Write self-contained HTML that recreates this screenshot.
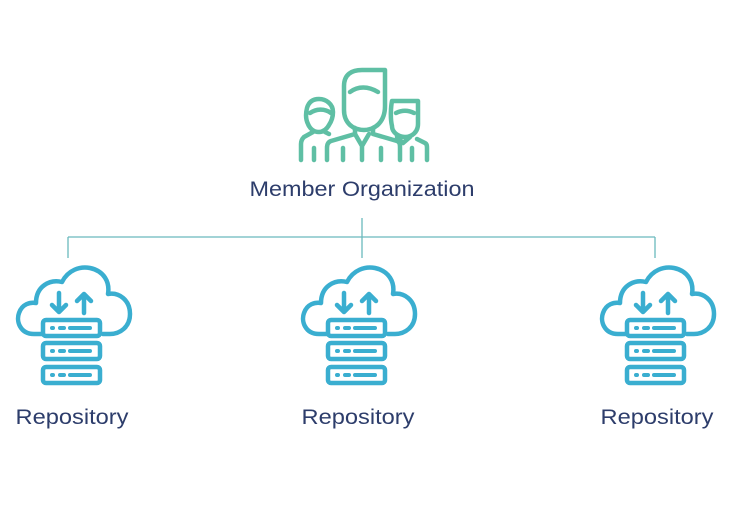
<!DOCTYPE html>
<html><head><meta charset="utf-8"><style>
html,body{margin:0;padding:0;background:#fff;}
svg{display:block;}
</style></head><body>
<svg width="738" height="516" viewBox="0 0 738 516" xmlns="http://www.w3.org/2000/svg">
<defs>
<g id="repo" fill="none" stroke="#3aaed0" stroke-width="4.5" stroke-linecap="round" stroke-linejoin="round">
  <path d="M-29 62 H-38 C-52 62 -56 49 -53 41 C-50 32 -42 30 -36 31 C-36 14 -22 7 -10 10 C-4 -2 8 -6 18 -4 C32 -1 38 10 36 22 C47 20 58 28 58 42 C58 55 48 62 38 62 H31"/>
  <path d="M-13 21 V40 M-20 33 L-13 40 L-6 33"/>
  <path d="M12 41 V22 M5 29 L12 22 L19 29"/>
  <rect x="-29" y="48" width="57" height="16" rx="3" fill="#fff"/>
  <rect x="-29" y="71" width="57" height="16" rx="3"/>
  <rect x="-29" y="95" width="57" height="16" rx="3"/>
  <g stroke-width="4">
  <path d="M-20 56 h1 M-12 56 h4 M-2 56 h20"/>
  <path d="M-20 79 h1 M-12 79 h4 M-2 79 h20"/>
  <path d="M-20 103 h1 M-12 103 h4 M-2 103 h20"/>
  </g>
</g>
</defs>
<!-- people -->
<g fill="none" stroke="#5fbfa4" stroke-width="4.5" stroke-linecap="round" stroke-linejoin="round">
  <path d="M344 110 V86 C344 74 352 70 362 70 H385 V106 C385 122 375 130 364 130 C352 130 344 122 344 110 Z"/>
  <path d="M350 92 C358 86 368 86 378 92"/>
  <path d="M355 128 V134 L331 141 C328 142 327 145 327 148 V160 M373 128 V134 L397 141 C400 142 400 145 400 148 V160"/>
  <path d="M355 134 L362 146 L369 134 M362 146 V160 M343 148 V160 M381 148 V160"/>
  <path d="M308 124 C305 118 306 112 307 108 C309 101 314 99 319 99 C326 99 333 104 333 112 C333 118 331 122 329 125 C327 129 323 132 319 132 C314 132 310 129 308 124 Z"/>
  <path d="M310 113 C316 109 324 108 331 113"/>
  <path d="M313 132 L304 137 C302 139 301 141 301 144 V160 M314 148 V160 M325 132 L329 134"/>
  <path d="M392 126 C390 118 391 106 392 101 H418 V124 C418 132 412 137 405 137 C398 137 392 132 392 126 Z"/>
  <path d="M396 113 C402 110 408 110 414 113"/>
  <path d="M397 137 L403 143 L410 137 M417 139 L425 143 C427 144 427 146 427 148 V160 M412 148 V160"/>
</g>
<text x="362" y="196" text-anchor="middle" font-family="Liberation Sans, sans-serif" font-size="21" fill="#2d3d6b" textLength="225" lengthAdjust="spacingAndGlyphs">Member Organization</text>
<g stroke="#6ab9bd" stroke-width="1.3" fill="none">
  <path d="M68 237 H655 M362 218 V258 M68 237 V258 M655 237 V258"/>
</g>
<use href="#repo" x="72" y="272"/>
<use href="#repo" x="357" y="272"/>
<use href="#repo" x="656" y="272"/>
<g font-family="Liberation Sans, sans-serif" font-size="21" fill="#2d3d6b" text-anchor="middle">
  <text x="72" y="424" textLength="113" lengthAdjust="spacingAndGlyphs">Repository</text>
  <text x="358" y="424" textLength="113" lengthAdjust="spacingAndGlyphs">Repository</text>
  <text x="657" y="424" textLength="113" lengthAdjust="spacingAndGlyphs">Repository</text>
</g>
</svg>
</body></html>
